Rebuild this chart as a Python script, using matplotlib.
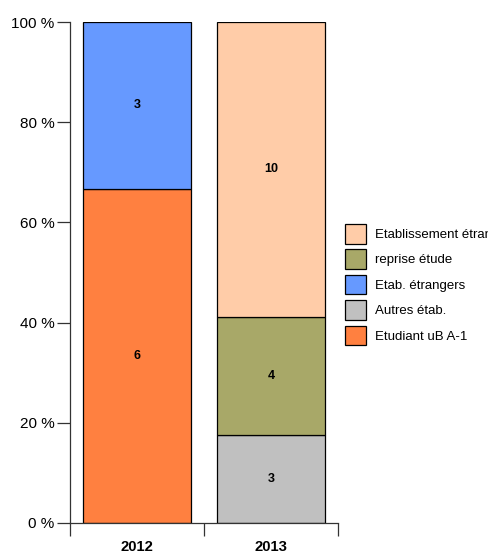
import matplotlib
matplotlib.use("Agg")
import matplotlib.pyplot as plt
from matplotlib.patches import Patch

plt.rcParams["font.family"] = ["Liberation Sans", "DejaVu Sans"]

years = ["2012", "2013"]
# series listed bottom-to-top per year: (label, count, colour)
series_2012 = [("Etudiant uB A-1", 6, "#FF8040"), ("Etab. étrangers", 3, "#6699FF")]
series_2013 = [("Autres étab.", 3, "#C0C0C0"), ("reprise étude", 4, "#A8A868"),
               ("Etablissement étranger", 10, "#FFCCA8")]
legend_order = ["Etablissement étranger", "reprise étude", "Etab. étrangers",
                "Autres étab.", "Etudiant uB A-1"]
yticks = [0, 20, 40, 60, 80, 100]

fig = plt.figure(figsize=(4.88, 5.51), dpi=100)
ax = fig.add_axes([70 / 488, 28 / 551, 268 / 488, 501 / 551])

colours = {}
for i, stack in enumerate([series_2012, series_2013]):
    total = sum(c for _, c, _ in stack)
    bottom = 0.0
    for label, count, col in stack:
        h = 100.0 * count / total
        ax.bar(i + 0.5, h, bottom=bottom, width=0.8, color=col,
               edgecolor="black", linewidth=0.9)
        ax.text(i + 0.5, bottom + h / 2, str(count), ha="center", va="center",
                fontsize=9, fontweight="bold")
        bottom += h
        colours[label] = col

ax.set_xlim(0, 2)
ax.set_ylim(0, 100)
ax.set_yticks(yticks)
ax.set_yticklabels([f"{v} %" for v in yticks], fontsize=11)
ax.set_xticks([0, 1, 2])
ax.set_xticklabels([])
ax.set_xticks([0.5, 1.5], minor=True)
ax.set_xticklabels(years, minor=True, fontsize=10.7, fontweight="bold")
ax.tick_params(axis="x", which="major", length=9.5, width=0.9, color="#333333")
ax.tick_params(axis="x", which="minor", length=0, pad=12)
ax.tick_params(axis="y", length=9.5, width=0.9, pad=1.5, color="#333333")
for s in ["top", "right"]:
    ax.spines[s].set_visible(False)
for s in ["left", "bottom"]:
    ax.spines[s].set_linewidth(0.9)
    ax.spines[s].set_color("#333333")

handles = [Patch(facecolor=colours[l], edgecolor="black", linewidth=0.9, label=l)
           for l in legend_order]
fig.legend(handles=handles, loc="upper left", bbox_to_anchor=(345 / 488, 1 - 224 / 551),
           frameon=False, fontsize=9.5, borderpad=0, borderaxespad=0,
           handlelength=1.6, handleheight=1.9, handletextpad=0.7, labelspacing=0.45)

fig.savefig("out.png", dpi=100)
